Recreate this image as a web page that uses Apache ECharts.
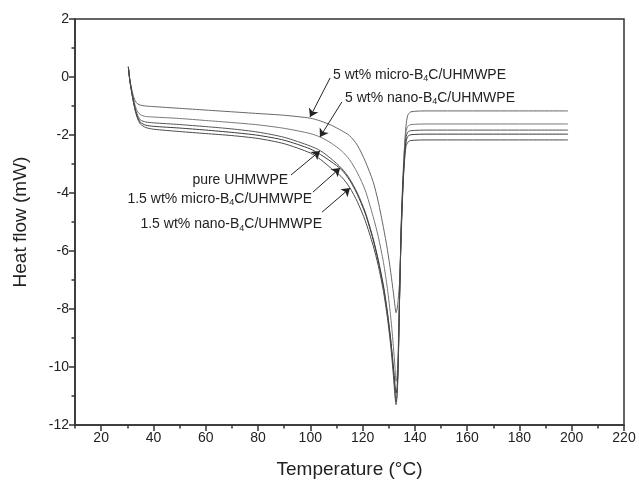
<!DOCTYPE html>
<html>
<head>
<meta charset="utf-8">
<script src="https://cdn.jsdelivr.net/npm/echarts@6/dist/echarts.min.js"></script>
<style>
  html, body { margin: 0; padding: 0; background: #fff; }
  #dsc { width: 639px; height: 486px; }
</style>
</head>
<body>
<div id="dsc"></div>
<script>
// temperature grid shared by all DSC curves (°C)
const temps = [30.4, 31, 32, 33, 34, 35, 37, 40, 50, 60, 70, 80, 90, 100, 104, 108, 112, 115, 118, 121,
  124, 126, 128, 129.5, 130.8, 131.8, 132.4, 132.8, 133.2, 133.6, 134.2, 134.8, 135.4, 136, 136.6, 137.3,
  138.5, 145, 160, 180, 198.6];

// heat flow (mW)
const micro5 = [0.35, -0.1, -0.55, -0.82, -0.93, -0.97, -1.0, -1.02, -1.08, -1.14, -1.2, -1.26, -1.32, -1.42, -1.52, -1.66, -1.85, -2.02, -2.35, -2.9,
  -3.6, -4.3, -5.2, -5.95, -6.75, -7.45, -7.9, -8.13, -8.0, -7.7, -7.0, -5.4, -3.9, -2.5, -1.7, -1.32,
  -1.2, -1.17, -1.17, -1.17, -1.17];
const nano5 = [0.35, -0.12, -0.6, -0.98, -1.2, -1.3, -1.36, -1.38, -1.43, -1.5, -1.57, -1.65, -1.77, -1.95, -2.08, -2.28, -2.55, -2.85, -3.3, -3.9,
  -4.8, -5.5, -6.4, -7.3, -8.3, -9.3, -10.0, -10.5, -10.3, -9.5, -7.3, -5.0, -3.5, -2.5, -1.9, -1.7,
  -1.64, -1.62, -1.62, -1.62, -1.62];
const pure = [0.35, -0.13, -0.65, -1.08, -1.33, -1.48, -1.55, -1.58, -1.64, -1.71, -1.79, -1.9, -2.08, -2.38, -2.55, -2.82, -3.15, -3.5, -4.0, -4.65,
  -5.55, -6.3, -7.2, -8.1, -9.1, -10.1, -10.8, -11.2, -10.9, -10.0, -7.4, -5.1, -3.7, -2.7, -2.1, -1.9,
  -1.85, -1.83, -1.83, -1.83, -1.83];
const micro15 = [0.35, -0.14, -0.68, -1.12, -1.4, -1.56, -1.66, -1.7, -1.76, -1.83, -1.91, -2.01, -2.18, -2.48, -2.68, -2.92, -3.2, -3.55, -4.05, -4.7,
  -5.6, -6.35, -7.25, -8.15, -9.1, -10.0, -10.6, -10.9, -10.7, -9.9, -7.4, -5.2, -3.8, -2.85, -2.25, -2.05,
  -1.99, -1.97, -1.97, -1.97, -1.97];
const nano15 = [0.35, -0.15, -0.7, -1.15, -1.45, -1.62, -1.74, -1.8, -1.88, -1.95, -2.02, -2.12, -2.3, -2.62, -2.85, -3.15, -3.45, -3.8, -4.3, -4.95,
  -5.8, -6.5, -7.4, -8.3, -9.3, -10.3, -11.0, -11.3, -11.0, -10.1, -7.5, -5.3, -3.9, -2.95, -2.4, -2.25,
  -2.19, -2.17, -2.17, -2.17, -2.17];

const curves = [micro5, nano5, pure, micro15, nano15];
const curveColors = ['#666', '#777', '#555', '#3a3a3a', '#4a4a4a'];

const xMajor = [20, 40, 60, 80, 100, 120, 140, 160, 180, 200, 220];
const xMinor = [10, 30, 50, 70, 90, 110, 130, 150, 170, 190, 210];

// annotations: text, anchor [T, mW], alignment, arrow tail and head
const labelTexts = [
  '5 wt% micro-B{sub|4}C/UHMWPE',
  '5 wt% nano-B{sub|4}C/UHMWPE',
  'pure UHMWPE',
  '1.5 wt% micro-B{sub|4}C/UHMWPE',
  '1.5 wt% nano-B{sub|4}C/UHMWPE'
];
const labelAnchors = [[108.7, 0.07], [113.3, -0.72], [91.5, -3.55], [100.7, -4.2], [104.5, -5.07]];
const labelAlign = ['left', 'left', 'right', 'right', 'right'];
const arrowTails = [[107.6, -0.03], [112.1, -0.86], [92.6, -3.38], [101, -3.97], [104.5, -4.66]];
const arrowHeads = [[99.9, -1.38], [103.7, -2.07], [103.7, -2.55], [111.4, -3.14], [115.2, -3.83]];

const FONT = 'Liberation Sans, Arial, sans-serif';
const myChart = echarts.init(document.getElementById('dsc'), null, { renderer: 'canvas' });

const series = curves.map((vals, i) => ({
  type: 'line',
  data: temps.map((t, k) => [t, vals[k]]),
  showSymbol: false,
  smooth: 0.25,
  lineStyle: { color: curveColors[i], width: 1 },
  silent: true,
  markLine: {
    silent: true,
    symbol: ['none', 'arrow'],
    symbolSize: 8,
    label: { show: false },
    lineStyle: { color: '#222', width: 1, type: 'solid' },
    itemStyle: { color: '#111' },
    data: [[{ coord: arrowTails[i] }, { coord: arrowHeads[i] }]]
  }
}));

const option = {
  animation: false,
  grid: {
    left: 75, right: 15, top: 19, bottom: 61,
    show: true, borderColor: '#333', borderWidth: 1.5
  },
  xAxis: [{
    type: 'value',
    min: 10,
    max: 220,
    name: 'Temperature (°C)',
    nameLocation: 'middle',
    nameGap: 35,
    nameTextStyle: { fontFamily: FONT, fontSize: 19, color: '#222' },
    axisLine: { onZero: false, lineStyle: { color: '#333', width: 1.5 } },
    axisTick: { length: 6, lineStyle: { color: '#333', width: 1.5 }, customValues: xMajor },
    axisLabel: { customValues: xMajor, fontFamily: FONT, fontSize: 14, color: '#222', margin: 6 },
    splitLine: { show: false }
  }, {
    type: 'value',
    min: 10,
    max: 220,
    position: 'bottom',
    axisLine: { show: false, onZero: false },
    axisTick: { length: 3.5, lineStyle: { color: '#333', width: 1.5 }, customValues: xMinor },
    axisLabel: { show: false },
    splitLine: { show: false }
  }],
  yAxis: {
    type: 'value',
    min: -12,
    max: 2,
    interval: 2,
    name: 'Heat flow (mW)',
    nameLocation: 'middle',
    nameGap: 45,
    nameTextStyle: { fontFamily: FONT, fontSize: 19, color: '#222' },
    axisLine: { show: true, onZero: false, lineStyle: { color: '#333', width: 1.5 } },
    axisTick: { show: true, length: 6, lineStyle: { color: '#333', width: 1.5 } },
    minorTick: { show: true, splitNumber: 2, length: 3.5, lineStyle: { color: '#333', width: 1.5 } },
    axisLabel: { fontFamily: FONT, fontSize: 14, color: '#222', margin: 6 },
    splitLine: { show: false }
  },
  series: series
};

myChart.setOption(option);

// text labels placed at data positions
const graphics = labelTexts.map((txt, i) => {
  const p = myChart.convertToPixel({ gridIndex: 0 }, labelAnchors[i]);
  return {
    type: 'text',
    x: p[0],
    y: p[1],
    silent: true,
    style: {
      text: txt,
      font: '14px ' + FONT,
      fill: '#222',
      align: labelAlign[i],
      verticalAlign: 'middle',
      lineHeight: 16,
      rich: {
        sub: { fontSize: 9, fontFamily: FONT, lineHeight: 17, verticalAlign: 'bottom', fill: '#222' }
      }
    }
  };
});
myChart.setOption({ graphic: graphics });
</script>
</body>
</html>
